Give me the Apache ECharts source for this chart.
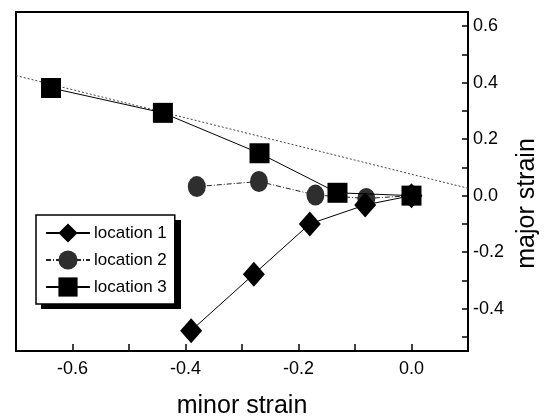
<!DOCTYPE html>
<html>
<head>
<meta charset="utf-8">
<script src="https://cdn.jsdelivr.net/npm/echarts@6/dist/echarts.min.js"></script>
<style>
  html, body { margin: 0; padding: 0; background: #fff; }
  #chart { width: 545px; height: 419px; }
</style>
</head>
<body>
<div id="chart"></div>
<script>
  // values: [minor strain, major strain]
  var location1 = [[-0.390, -0.478], [-0.279, -0.278], [-0.180, -0.100], [-0.082, -0.033], [0.0, 0.0]];
  var location2 = [[-0.380, 0.032], [-0.270, 0.050], [-0.170, 0.002], [-0.080, -0.010], [0.0, 0.0]];
  var location3 = [[-0.638, 0.381], [-0.440, 0.293], [-0.269, 0.150], [-0.131, 0.010], [0.0, 0.0]];
  // dotted guide line end points
  var guideLine = [[-0.7, 0.425], [0.1, 0.026]];

  var xTicks = [-0.7, -0.6, -0.5, -0.4, -0.3, -0.2, -0.1, 0.0, 0.1];
  var xLabels = [-0.6, -0.4, -0.2, 0.0];
  var yTicks = [-0.5, -0.4, -0.3, -0.2, -0.1, 0.0, 0.1, 0.2, 0.3, 0.4, 0.5, 0.6];
  var yLabels = [-0.4, -0.2, 0.0, 0.2, 0.4, 0.6];

  var font = 'Liberation Sans, Arial, sans-serif';

  var chart = echarts.init(document.getElementById('chart'));
  chart.setOption({
    animation: false,
    grid: {
      left: 16,
      right: 77,
      top: 12,
      bottom: 68,
      outerBoundsMode: 'none',
      containLabel: false,
      show: true,
      borderColor: '#000',
      borderWidth: 2
    },
    // drop shadow behind the legend box
    graphic: [{
      type: 'rect',
      z: 1,
      shape: { x: 41, y: 220, width: 140, height: 89 },
      style: { fill: '#000' }
    }],
    legend: {
      data: ['location 1', 'location 2', 'location 3'],
      orient: 'vertical',
      left: 36,
      top: 215,
      itemWidth: 44,
      itemHeight: 24,
      itemGap: 3,
      padding: [6, 8, 5, 9],
      backgroundColor: '#fff',
      borderColor: '#000',
      borderWidth: 1.5,
      z: 5,
      textStyle: {
        fontFamily: font,
        fontSize: 17,
        lineHeight: 24,
        color: '#000',
        padding: [0, 0, 0, -1]
      }
    },
    xAxis: {
      type: 'value',
      min: -0.7,
      max: 0.1,
      name: 'minor strain',
      nameLocation: 'middle',
      nameGap: 43,
      nameTextStyle: { fontFamily: font, fontSize: 25, color: '#000' },
      axisLine: { onZero: false, lineStyle: { color: '#000', width: 2 } },
      axisTick: { inside: true, length: 7, lineStyle: { color: '#000', width: 1.5 }, customValues: xTicks },
      axisLabel: {
        customValues: xLabels,
        fontFamily: font, fontSize: 18, color: '#000', margin: 9,
        formatter: function (v) { return v.toFixed(1); }
      },
      splitLine: { show: false }
    },
    yAxis: {
      type: 'value',
      position: 'right',
      min: -0.55,
      max: 0.65,
      name: 'major strain',
      nameLocation: 'middle',
      nameRotate: 90,
      nameGap: 47,
      nameTextStyle: { fontFamily: font, fontSize: 25, color: '#000', padding: [0, 44, 0, 0] },
      axisLine: { onZero: false, lineStyle: { color: '#000', width: 2 } },
      axisTick: { inside: true, length: 6, lineStyle: { color: '#000', width: 1.5 }, customValues: yTicks },
      axisLabel: {
        customValues: yLabels,
        fontFamily: font, fontSize: 18, color: '#000', margin: 5,
        formatter: function (v) { return v.toFixed(1); }
      },
      splitLine: { show: false }
    },
    series: [
      {
        name: 'guide',
        type: 'line',
        data: guideLine,
        symbol: 'none',
        silent: true,
        lineStyle: { color: '#444', width: 1, type: [2, 2] },
        z: 1
      },
      {
        name: 'location 1',
        type: 'line',
        data: location1,
        symbol: 'diamond',
        symbolSize: [22, 25],
        itemStyle: { color: '#000' },
        lineStyle: { color: '#000', width: 1 },
        z: 3
      },
      {
        name: 'location 2',
        type: 'line',
        data: location2,
        symbol: 'circle',
        symbolSize: [18, 21],
        itemStyle: { color: '#2e2e2e' },
        lineStyle: { color: '#222', width: 1, type: [5, 2, 1, 2] },
        z: 2
      },
      {
        name: 'location 3',
        type: 'line',
        data: location3,
        symbol: 'rect',
        symbolSize: 20,
        itemStyle: { color: '#000' },
        lineStyle: { color: '#000', width: 1 },
        z: 3
      }
    ]
  });
</script>
</body>
</html>
